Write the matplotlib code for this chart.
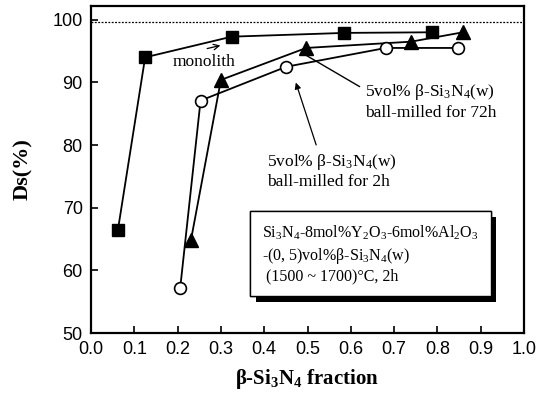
import matplotlib
matplotlib.use('Agg')
import matplotlib.pyplot as plt
import matplotlib.patheffects as pe

plt.rcParams['mathtext.fontset'] = 'custom'
plt.rcParams['mathtext.rm'] = 'Liberation Serif'
plt.rcParams['mathtext.it'] = 'Liberation Serif:italic'
plt.rcParams['mathtext.bf'] = 'Liberation Serif:bold'

# beta-Si3N4 fraction vs relative density Ds(%)
mono_x = [0.062, 0.125, 0.325, 0.585, 0.787]
mono_y = [66.4, 94.0, 97.3, 97.9, 98.0]

w72_x = [0.231, 0.300, 0.497, 0.739, 0.859]
w72_y = [64.9, 90.4, 95.5, 96.5, 98.0]

w2_x = [0.206, 0.253, 0.451, 0.681, 0.848]
w2_y = [57.2, 87.1, 92.5, 95.5, 95.5]

theory_y = 99.6
xticks = [0.0, 0.1, 0.2, 0.3, 0.4, 0.5, 0.6, 0.7, 0.8, 0.9, 1.0]
yticks = [50, 60, 70, 80, 90, 100]

fig = plt.figure(figsize=(5.46, 3.98), dpi=100)
ax = fig.add_axes([0.1667, 0.1633, 0.7930, 0.8217])

ax.axhline(theory_y, color='black', lw=0.9, ls=(0, (1.5, 1.2)))

ax.plot(mono_x, mono_y, color='black', lw=1.3, marker='s', ms=8.5,
        mfc='black', mec='black')
ax.plot(w72_x, w72_y, color='black', lw=1.3, marker='^', ms=10,
        mfc='black', mec='black')
ax.plot(w2_x, w2_y, color='black', lw=1.3, marker='o', ms=8.5,
        mfc='white', mec='black', mew=1.2)

serif = 'Liberation Serif'

# labels for the curves
ax.text(0.261, 93.3, 'monolith', fontsize=12.5, family=serif,
        ha='center', va='center')
ax.annotate('', xy=(0.305, 96.0), xytext=(0.262, 95.3),
            arrowprops=dict(arrowstyle='->', lw=0.9, color='black'))

ax.text(0.633, 86.9, '5vol% β-Si$_3$N$_4$(w)\nball-milled for 72h',
        fontsize=12.5, family=serif, ha='left', va='center', linespacing=1.25)
ax.annotate('', xy=(0.490, 94.6), xytext=(0.626, 89.1),
            arrowprops=dict(arrowstyle='-', lw=1.0, color='black'))

ax.text(0.406, 75.9, '5vol% β-Si$_3$N$_4$(w)\nball-milled for 2h',
        fontsize=12.5, family=serif, ha='left', va='center', linespacing=1.2)
ax.annotate('', xy=(0.471, 90.4), xytext=(0.522, 79.6),
            arrowprops=dict(arrowstyle='-|>', lw=0.9, color='black',
                            mutation_scale=9))

# composition / sintering conditions box
box_txt = ('Si$_3$N$_4$-8mol%Y$_2$O$_3$-6mol%Al$_2$O$_3$\n'
           '-(0, 5)vol%β-Si$_3$N$_4$(w)\n'
           ' (1500 ~ 1700)°C, 2h')
t = ax.text(0.395, 62.6, box_txt, fontsize=11.5, family=serif,
            ha='left', va='center', linespacing=1.25,
            bbox=dict(boxstyle='square,pad=0.75', fc='white', ec='black', lw=1.0))
t.get_bbox_patch().set_path_effects([
    pe.withSimplePatchShadow(offset=(4, -4), shadow_rgbFace='black', alpha=1.0),
    pe.Normal()])

ax.set_xlim(0, 1.0)
ax.set_ylim(50, 102.2)
ax.set_xticks(xticks)
ax.set_yticks(yticks)
ax.set_xticklabels(['%.1f' % v for v in xticks])
ax.tick_params(direction='in', length=5, width=1.2, labelsize=13, pad=6)
for lab in ax.get_xticklabels() + ax.get_yticklabels():
    lab.set_family('Liberation Sans')
for s in ax.spines.values():
    s.set_linewidth(1.6)

ax.set_ylabel('Ds(%)', fontsize=16, fontweight='bold', family=serif, labelpad=14)
ax.set_xlabel(r'β-Si$_\mathbf{3}$N$_\mathbf{4}$ fraction', fontsize=15,
              fontweight='bold', family=serif, labelpad=6)

fig.savefig('out.png', dpi=100)
